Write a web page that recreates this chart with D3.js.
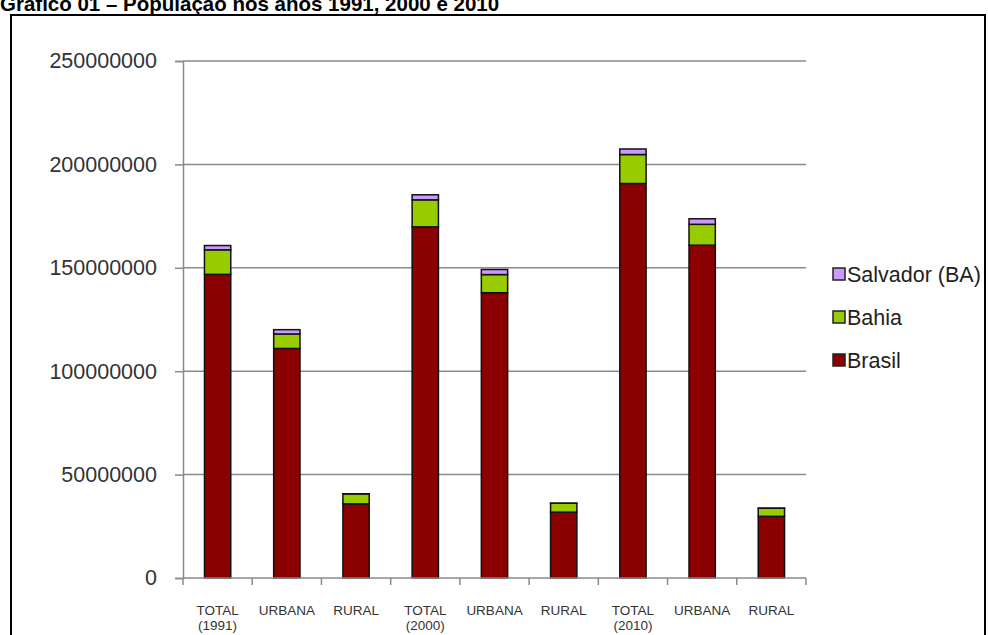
<!DOCTYPE html>
<html>
<head>
<meta charset="utf-8">
<script src="https://cdn.jsdelivr.net/npm/d3@7"></script>
<style>
  html, body { margin: 0; padding: 0; background: #fff; }
  svg { display: block; }
  text { font-family: Arial, "Liberation Sans", sans-serif; }
</style>
</head>
<body>
<svg id="chart" width="988" height="635"></svg>
<script>
// Census population, 1991 / 2000 / 2010 (total, urban, rural)
const categories = [
  ["TOTAL", "(1991)"], ["URBANA"], ["RURAL"],
  ["TOTAL", "(2000)"], ["URBANA"], ["RURAL"],
  ["TOTAL", "(2010)"], ["URBANA"], ["RURAL"]
];
const brasil   = [146825475, 110990990, 35834485, 169799170, 137953959, 31845211, 190755799, 160925792, 29830007];
const bahia    = [11867991, 7016770, 4851221, 13070250, 8772348, 4297902, 14016906, 10102476, 3914430];
const salvador = [2075273, 2073510, 1763, 2443107, 2442102, 1005, 2675656, 2674923, 733];
const seriesNames = ["Brasil", "Bahia", "Salvador (BA)"];
const seriesColors = ["#8b0000", "#99cc00", "#cc99ff"];
const yTicks = [0, 50000000, 100000000, 150000000, 200000000, 250000000];

const svg = d3.select("#chart");

// Title and frame
svg.append("text")
  .attr("x", 0).attr("y", 11)
  .attr("font-size", 20.5).attr("font-weight", "bold").attr("fill", "#000")
  .text("Gráfico 01 – População nos anos 1991, 2000 e 2010");

svg.append("rect")
  .attr("x", 11).attr("y", 15).attr("width", 974).attr("height", 640)
  .attr("fill", "none").attr("stroke", "#000").attr("stroke-width", 2);

const plotLeft = 183, plotRight = 806, plotTop = 61, plotBottom = 578;

const x = d3.scaleBand()
  .domain(d3.range(categories.length))
  .range([plotLeft, plotRight])
  .paddingInner(0.62)
  .paddingOuter(0.31);

const y = d3.scaleLinear().domain([0, 250000000]).range([plotBottom, plotTop]);

// Gridlines
svg.append("g").selectAll("line").data(yTicks.filter(d => d > 0)).join("line")
  .attr("x1", plotLeft).attr("x2", plotRight)
  .attr("y1", d => y(d)).attr("y2", d => y(d))
  .attr("stroke", "#8a8a8a").attr("stroke-width", 1.5);

// Y axis
const yAxis = svg.append("g")
  .attr("transform", `translate(${plotLeft},0)`)
  .call(d3.axisLeft(y).tickValues(yTicks).tickFormat(d3.format("d")).tickSize(8).tickPadding(18));
yAxis.select(".domain").attr("stroke", "#8a8a8a").attr("stroke-width", 1.5);
yAxis.selectAll(".tick line").attr("stroke", "#8a8a8a").attr("stroke-width", 1.5);
yAxis.selectAll(".tick text")
  .attr("font-size", 21.5).attr("fill", "#333")
  .attr("font-family", "Arial, 'Liberation Sans', sans-serif");

// Stacked bars
const rows = categories.map((c, i) => ({ i, Brasil: brasil[i], Bahia: bahia[i], "Salvador (BA)": salvador[i] }));
const stack = d3.stack().keys(seriesNames)(rows);

svg.append("g").selectAll("g").data(stack).join("g")
  .attr("fill", (d, k) => seriesColors[k])
  .selectAll("rect").data(d => d).join("rect")
  .attr("x", d => x(d.data.i))
  .attr("width", x.bandwidth())
  .attr("y", d => y(d[1]))
  .attr("height", d => y(d[0]) - y(d[1]))
  .attr("stroke", "#111").attr("stroke-width", 1.5);

// X axis line and category-boundary ticks
svg.append("line")
  .attr("x1", plotLeft).attr("x2", plotRight).attr("y1", plotBottom).attr("y2", plotBottom)
  .attr("stroke", "#8a8a8a").attr("stroke-width", 1.5);
const step = x.step();
svg.append("g").selectAll("line").data(d3.range(categories.length + 1)).join("line")
  .attr("x1", i => plotLeft + i * step).attr("x2", i => plotLeft + i * step)
  .attr("y1", plotBottom).attr("y2", plotBottom + 7)
  .attr("stroke", "#8a8a8a").attr("stroke-width", 1.5);

// Category labels
const lab = svg.append("g").selectAll("text").data(categories).join("text")
  .attr("text-anchor", "middle")
  .attr("font-size", 13.5).attr("fill", "#333")
  .attr("transform", (d, i) => `translate(${x(i) + x.bandwidth() / 2},615)`);
lab.selectAll("tspan").data(d => d).join("tspan")
  .attr("x", 0).attr("dy", (d, j) => j === 0 ? 0 : 14.5)
  .text(d => d);

// Legend (top entry is the last series)
const legendItems = seriesNames.map((n, k) => ({ n, c: seriesColors[k] })).reverse();
const lg = svg.append("g").selectAll("g").data(legendItems).join("g")
  .attr("transform", (d, k) => `translate(833,${274 + k * 43})`);
lg.append("rect")
  .attr("x", 0).attr("y", -6).attr("width", 12).attr("height", 12)
  .attr("fill", d => d.c).attr("stroke", "#222").attr("stroke-width", 1.5);
lg.append("text")
  .attr("x", 14).attr("y", 7.5)
  .attr("font-size", 21.5).attr("fill", "#222")
  .text(d => d.n);
</script>
</body>
</html>
